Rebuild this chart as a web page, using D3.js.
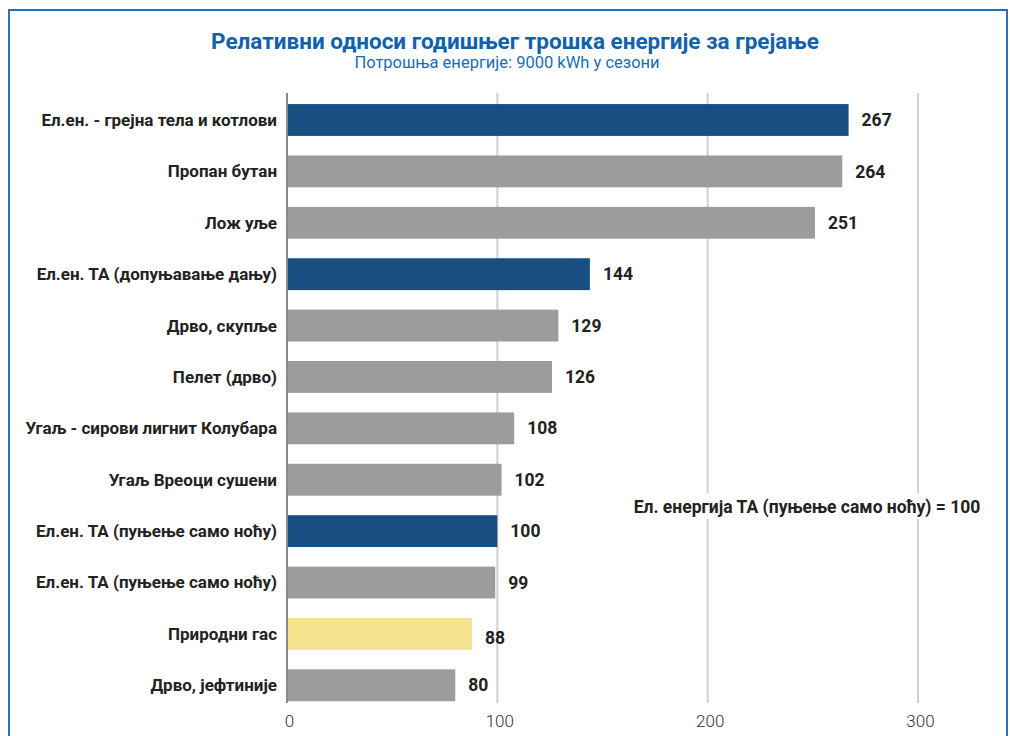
<!DOCTYPE html>
<html>
<head>
<meta charset="utf-8">
<script src="https://cdn.jsdelivr.net/npm/d3@7"></script>
<style>
  body { margin: 0; background: #fff; }
  svg { display: block; font-family: Roboto, "Noto Sans", sans-serif; }
</style>
</head>
<body>
<svg id="chart" width="1010" height="736"></svg>
<script>
const categories = [
  "Ел.ен. - грејна тела и котлови",
  "Пропан бутан",
  "Лож уље",
  "Ел.ен. ТА (допуњавање дању)",
  "Дрво, скупље",
  "Пелет (дрво)",
  "Угаљ - сирови лигнит Колубара",
  "Угаљ Вреоци сушени",
  "Ел.ен. ТА (пуњење само ноћу)",
  "Ел.ен. ТА (пуњење само ноћу)",
  "Природни гас",
  "Дрво, јефтиније"
];
const values = [267, 264, 251, 144, 129, 126, 108, 102, 100, 99, 88, 80];
const kinds = ["el", "other", "other", "el", "other", "other", "other", "other", "el", "other", "gas", "other"];
const ticks = [0, 100, 200, 300];

const title = "Релативни односи годишњег трошка енергије за грејање";
const subtitle = "Потрошња енергије: 9000 kWh у сезони";
const note = "Ел. енергија ТА (пуњење само ноћу) = 100";

const colors = { el: "#174f82", other: "#9b9c9c", gas: "#f4e28f" };

const svg = d3.select('#chart');

// frame
svg.append('rect')
  .attr('x', 9).attr('y', 10)
  .attr('width', 998).attr('height', 740)
  .attr('fill', 'none')
  .attr('stroke', '#2472ba')
  .attr('stroke-width', 2);

svg.append('text')
  .attr('x', 515).attr('y', 49)
  .attr('text-anchor', 'middle')
  .attr('font-size', 22.5).attr('font-weight', 700)
  .attr('fill', '#1262ab')
  .text(title);

svg.append('text')
  .attr('x', 507).attr('y', 68)
  .attr('text-anchor', 'middle')
  .attr('font-size', 16.5)
  .attr('fill', '#1a6cb5')
  .text(subtitle);

const xScale = d3.scaleLinear().domain([0, 300]).range([287, 918]);
const yScale = d3.scaleBand()
  .domain(d3.range(categories.length))
  .range([94.3, 711])
  .paddingInner(0.38)
  .paddingOuter(0.19);

// grid lines
svg.append('g')
  .selectAll('line')
  .data(ticks.slice(1))
  .join('line')
  .attr('x1', d => xScale(d)).attr('x2', d => xScale(d))
  .attr('y1', 93).attr('y2', 703)
  .attr('stroke', '#d3d0d0')
  .attr('stroke-width', 2);

// annotation with white backing
const noteG = svg.append('g').attr('transform', 'translate(807, 507)');
noteG.append('rect')
  .attr('x', -185).attr('y', -14)
  .attr('width', 370).attr('height', 26)
  .attr('fill', '#fff');
noteG.append('text')
  .attr('text-anchor', 'middle')
  .attr('dy', '0.35em')
  .attr('font-size', 17.5).attr('font-weight', 700)
  .attr('fill', '#222')
  .text(note);

// bars
svg.append('g')
  .selectAll('rect')
  .data(values)
  .join('rect')
  .attr('x', xScale(0))
  .attr('y', (d, i) => yScale(i))
  .attr('width', d => xScale(d) - xScale(0))
  .attr('height', yScale.bandwidth())
  .attr('fill', (d, i) => colors[kinds[i]]);

// zero line
svg.append('line')
  .attr('x1', xScale(0)).attr('x2', xScale(0))
  .attr('y1', 93).attr('y2', 703)
  .attr('stroke', '#8a8a8a')
  .attr('stroke-width', 2);

// category labels
svg.append('g')
  .selectAll('text')
  .data(categories)
  .join('text')
  .attr('x', 277)
  .attr('y', (d, i) => yScale(i) + yScale.bandwidth() / 2)
  .attr('dy', '0.35em')
  .attr('text-anchor', 'end')
  .attr('font-size', 17).attr('font-weight', 700)
  .attr('fill', '#222')
  .text(d => d);

// value labels
svg.append('g')
  .selectAll('text')
  .data(values)
  .join('text')
  .attr('x', d => xScale(d) + 13)
  .attr('y', (d, i) => yScale(i) + yScale.bandwidth() / 2 + (kinds[i] === 'gas' ? 4 : 0))
  .attr('dy', '0.35em')
  .attr('font-size', 17.5).attr('font-weight', 700)
  .attr('fill', '#222')
  .text(d => d);

// x axis tick labels
const xAxis = d3.axisBottom(xScale).tickValues(ticks).tickSize(0).tickPadding(0);
const axisG = svg.append('g')
  .attr('transform', 'translate(2, 715)')
  .call(xAxis);
axisG.select('.domain').remove();
axisG.selectAll('text')
  .attr('font-family', 'Roboto, sans-serif')
  .attr('font-size', 17)
  .attr('font-weight', 300)
  .attr('fill', '#333');
</script>
</body>
</html>
